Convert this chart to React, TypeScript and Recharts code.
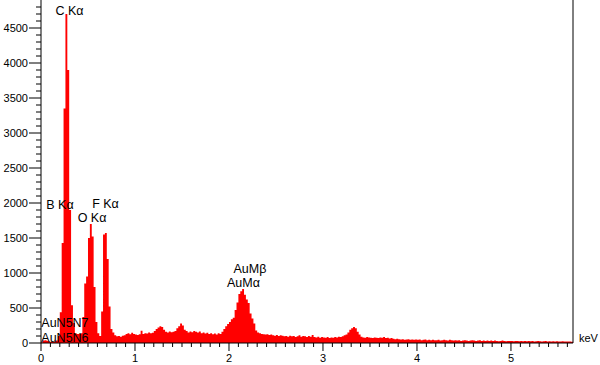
import React from 'react';
import { ComposedChart, Area, XAxis, YAxis, ReferenceLine, ReferenceDot } from 'recharts';

// EDS spectrum: counts per 0.02 keV channel, channel left edges from 0.00 keV
const channelWidthKeV = 0.02;
const counts: number[] = [
  10, 35, 40, 30, 20, 15, 15, 20, 35, 100,
  440, 1430, 3350, 4700, 3900, 1900, 540, 285, 140, 130,
  130, 140, 370, 850, 950, 1500, 1700, 1520, 800, 300,
  140, 100, 450, 1550, 1570, 1200, 520, 200, 150, 110,
  95, 100, 90, 105, 110, 130, 140, 125, 145, 130,
  120, 115, 125, 175, 130, 140, 135, 150, 140, 145,
  170, 200, 220, 240, 230, 190, 160, 150, 165, 155,
  160, 170, 210, 240, 280, 250, 190, 170, 150, 165,
  155, 170, 160, 150, 165, 140, 150, 135, 145, 130,
  140, 125, 135, 120, 140, 130, 160, 200, 240, 270,
  300, 340, 360, 470, 580, 700, 740, 770, 690, 620,
  570, 420, 350, 280, 180, 150, 140, 130, 125, 120,
  125, 115, 120, 110, 105, 115, 100, 110, 105, 95,
  100, 90, 105, 95, 100, 85, 95, 110, 90, 100,
  95, 85, 100, 90, 115, 85, 80, 90, 75, 85,
  80, 75, 85, 70, 80, 75, 85, 80, 90, 85,
  95, 110, 120, 150, 190, 210, 230, 210, 160, 120,
  90, 80, 75, 85, 80, 75, 70, 80, 75, 70,
  80, 75, 85, 70, 75, 65, 70, 60, 55, 60,
  55, 50, 55, 45, 50, 55, 45, 50, 45, 50,
  45, 50, 40, 45, 50, 40, 45, 40, 45, 40,
  40, 45, 35, 40, 45, 40, 35, 45, 40, 35,
  40, 35, 40, 30, 35, 40, 35, 30, 35, 40,
  35, 30, 35, 40, 30, 35, 30, 35, 30, 35,
  30, 35, 30, 25, 30, 35, 30, 25, 30, 28,
  30, 25, 30, 28, 25, 30, 25, 28, 25, 30,
  25, 28, 22, 25, 30, 25, 22, 25, 28, 22,
  25, 22, 25, 20, 25, 22, 20, 25, 22, 20,
  22, 20, 18, 20,
];

const xMax = 5.66;
const yMax = 4900;
const xMinorStep = 0.1;
const yMinorStep = 100;
const yLabelStep = 500;
const xAxisUnit = 'keV';

// peak annotations: text, anchor energy (keV), anchor count (baseline of text)
const peakTexts = ['C Kα', 'B Kα', 'F Kα', 'O Kα', 'AuN5N7', 'AuN5N6', 'AuMβ', 'AuMα'];
const peakKeV = [0.303, 0.202, 0.686, 0.543, 0.255, 0.255, 2.223, 2.154];
const peakCounts = [4686, 1921, 1929, 1729, 229, 14, 1000, 793];

const data = counts.map((c, i) => ({ e: Math.round(i * channelWidthKeV * 100) / 100, c }));
const xTicks = Array.from({ length: Math.round(5.6 / xMinorStep) + 1 }, (_, i) => Math.round(i * xMinorStep * 10) / 10);
const yTicks = Array.from({ length: 49 }, (_, i) => i * yMinorStep);

const FONT = "'Liberation Sans', Arial, sans-serif";

const XTick = (props: any) => {
  const { x, y, payload } = props;
  const v = payload.value as number;
  const major = Math.abs(v - Math.round(v)) < 1e-6;
  return (
    <g>
      <line x1={x} x2={x} y1={y} y2={y + (major ? 8 : 4)} stroke="#000" strokeWidth={1} />
      {major && (
        <text x={x} y={y + 19} textAnchor="middle" fontSize={11} fontFamily={FONT} fill="#000">
          {Math.round(v)}
        </text>
      )}
    </g>
  );
};

const YTick = (props: any) => {
  const { x, y, payload } = props;
  const v = payload.value as number;
  const major = v % yLabelStep === 0;
  return (
    <g>
      <line x1={x - (major ? 12 : 5)} x2={x} y1={y} y2={y} stroke="#000" strokeWidth={1} />
      {major && (
        <text x={x - 13} y={y + 4} textAnchor="end" fontSize={11} fontFamily={FONT} fill="#000">
          {v}
        </text>
      )}
    </g>
  );
};

export default function App() {
  return (
    <div style={{ position: 'absolute', left: 0, top: 0, width: 600, height: 365, background: '#fff' }}>
      <ComposedChart width={600} height={365} data={data} margin={{ top: 0, right: 27, bottom: 0, left: 0 }}>
        <XAxis
          dataKey="e"
          type="number"
          domain={[0, xMax]}
          ticks={xTicks}
          interval={0}
          height={22}
          tickSize={0}
          tickMargin={0}
          tickLine={false}
          axisLine={{ stroke: '#000', strokeWidth: 1 }}
          tick={<XTick />}
          allowDataOverflow
        />
        <YAxis
          type="number"
          domain={[0, yMax]}
          ticks={yTicks}
          interval={0}
          width={41}
          tickSize={0}
          tickMargin={0}
          tickLine={false}
          axisLine={{ stroke: '#000', strokeWidth: 1 }}
          tick={<YTick />}
          allowDataOverflow
        />
        <Area
          type="stepAfter"
          dataKey="c"
          stroke="none"
          fill="#ff0000"
          fillOpacity={1}
          isAnimationActive={false}
          dot={false}
          activeDot={false}
        />
        <ReferenceLine x={xMax} stroke="#000" strokeWidth={1} />
        {peakTexts.map((t, i) => (
          <ReferenceDot
            key={t}
            x={peakKeV[i]}
            y={peakCounts[i]}
            r={0}
            shape={(p: any) => (
              <text x={p.cx} y={p.cy} textAnchor="middle" fontSize={12.5} fontFamily={FONT} fill="#000">
                {t}
              </text>
            )}
          />
        ))}
        <ReferenceDot
          x={xMax}
          y={0}
          r={0}
          shape={(p: any) => (
            <text x={p.cx + 6} y={p.cy - 1} textAnchor="start" fontSize={11} fontFamily={FONT} fill="#000">
              {xAxisUnit}
            </text>
          )}
        />
      </ComposedChart>
    </div>
  );
}
